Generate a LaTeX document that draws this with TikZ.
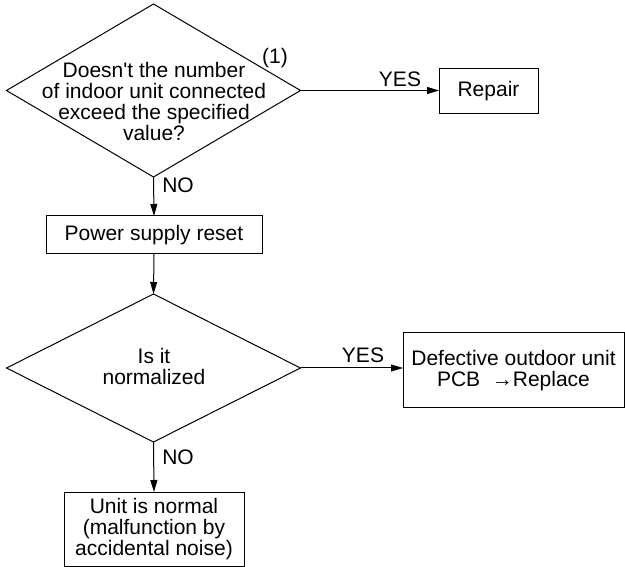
\documentclass[tikz,border=0pt]{standalone}
\usepackage{fontspec}
\setmainfont{Liberation Sans}
\usetikzlibrary{shapes.geometric,arrows.meta}
\begin{document}
\begin{tikzpicture}[x=1pt,y=-1pt,
  every node/.style={font=\fontsize{21}{21}\selectfont},
  dec/.style={draw,shape=diamond,inner sep=0pt,outer sep=0pt,line width=1pt},
  boxnode/.style={draw,rectangle,inner sep=0pt,outer sep=0pt,line width=1pt,align=center},
  txt/.style={align=center,inner sep=0pt},
  flow/.style={line width=1pt,-{Triangle[length=12pt,width=7pt]}}]
\useasboundingbox (0,0) rectangle (625,567);
% decisions
\node[dec,minimum width=294pt,minimum height=173pt] (d1) at (153.5,90.5) {};
\node[txt] (d1t) at (154,101) {Doesn\textquotesingle t the number\\of indoor unit connected\\exceed the specified\\value?};
\node[txt] (one) at (275,58) {(1)};
\node[dec,minimum width=294pt,minimum height=148pt] (d2) at (153.5,368) {};
\node[txt] (d2t) at (154,366) {Is it\\normalized};
% boxes
\node[boxnode,minimum width=99pt,minimum height=45pt] (repair) at (488.5,91.5) {Repair};
\node[boxnode,minimum width=216pt,minimum height=38pt] (power) at (154,235) {Power supply reset};
\node[boxnode,minimum width=221pt,minimum height=75pt] (defect) at (513.5,370.5) {Defective outdoor unit\\PCB~ →Replace};
\node[boxnode,minimum width=180pt,minimum height=74pt] (normal) at (154,529) {Unit is normal\\(malfunction by\\accidental noise)};
% labels
\node[txt] (yes1) at (400,79) {YES};
\node[txt] (no1) at (178,185) {NO};
\node[txt] (yes2) at (363,355) {YES};
\node[txt] (no2) at (178,457) {NO};
% connectors
\draw[flow] (d1.east) -- (repair.west |- d1.east);
\draw[flow] (d1.south) -- (power.north);
\draw[flow] (power.south) -- (d2.north);
\draw[flow] (d2.east) -- (defect.west |- d2.east);
\draw[flow] (d2.south) -- (normal.north);
\end{tikzpicture}
\end{document}
